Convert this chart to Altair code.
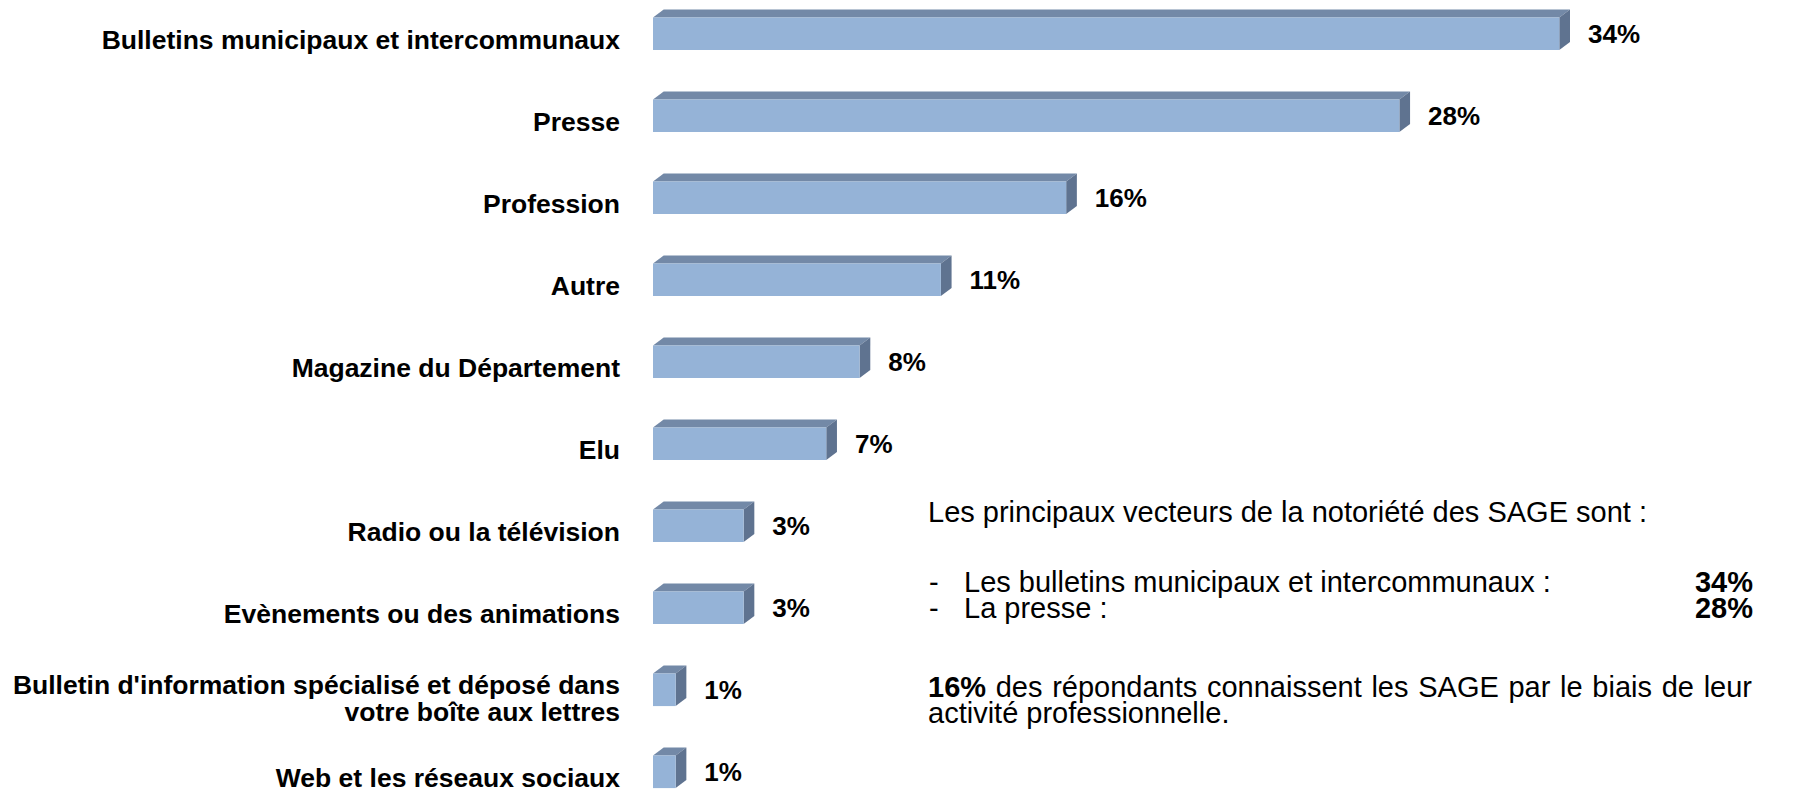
import altair as alt
import pandas as pd

# ---------------- data ----------------
categories = [
    "Bulletins municipaux et intercommunaux",
    "Presse",
    "Profession",
    "Autre",
    "Magazine du Département",
    "Elu",
    "Radio ou la télévision",
    "Evènements ou des animations",
    "Bulletin d'information spécialisé et déposé dans\nvotre boîte aux lettres",
    "Web et les réseaux sociaux",
]
values = [34.0, 28.0, 15.5, 10.8, 7.75, 6.5, 3.4, 3.4, 0.85, 0.85]
value_labels = ["34%", "28%", "16%", "11%", "8%", "7%", "3%", "3%", "1%", "1%"]

# ---------------- styling / geometry ----------------
FONT = "Liberation Sans, Arial, Helvetica, sans-serif"
FRONT = "#95B3D7"
TOP = "#7389A7"
SIDE = "#5F7390"

X_RANGE = [645, 1551.3]   # pixel range for domain [0, 34]
Y_RANGE = [25.7, 763.8]   # pixel range for rank [0, 9]
X_DOMAIN = [0, 34]
Y_DOMAIN = [0, 9]
px_x = (X_RANGE[1] - X_RANGE[0]) / (X_DOMAIN[1] - X_DOMAIN[0])
px_y = (Y_RANGE[1] - Y_RANGE[0]) / (Y_DOMAIN[1] - Y_DOMAIN[0])
half = 16.3 / px_y        # half bar thickness (front face)
ddx = 10.7 / px_x         # 3D depth, horizontal
ddy = 8.0 / px_y          # 3D depth, vertical
CAT_SIZE = 26.5
LINE_H = 27

rows_front, rows_top, rows_side = [], [], []
for i, (c, v, lab) in enumerate(zip(categories, values, value_labels)):
    yt, yb = i - half, i + half
    rows_front.append(dict(rank=i, cat=c, x0=0.0, x1=v, yt=yt, yb=yb,
                           lab=lab, xl=v + ddx, nl=c.count("\n") + 1))
    for x, y, y2 in [(0.0, yt, yt), (ddx, yt - ddy, yt), (v, yt - ddy, yt),
                     (v + ddx, yt - ddy, yt - ddy)]:
        rows_top.append(dict(rank=i, x=x, y=y, y2=y2))
    for x, y, y2 in [(v, yt, yb), (v + ddx, yt - ddy, yb - ddy)]:
        rows_side.append(dict(rank=i, x=x, y=y, y2=y2))

df_front = pd.DataFrame(rows_front)
df_top = pd.DataFrame(rows_top)
df_side = pd.DataFrame(rows_side)

xs = alt.Scale(domain=X_DOMAIN, range=X_RANGE, zero=False, nice=False)
ys = alt.Scale(domain=Y_DOMAIN, range=Y_RANGE, zero=False, nice=False)

top_faces = alt.Chart(df_top).mark_area(color=TOP, opacity=1).encode(
    x=alt.X("x:Q", scale=xs, axis=None),
    y=alt.Y("y:Q", scale=ys, axis=None, stack=None),
    y2="y2:Q",
    detail="rank:N",
)
side_faces = alt.Chart(df_side).mark_area(color=SIDE, opacity=1).encode(
    x=alt.X("x:Q", scale=xs, axis=None),
    y=alt.Y("y:Q", scale=ys, axis=None, stack=None),
    y2="y2:Q",
    detail="rank:N",
)
fronts = alt.Chart(df_front).mark_rect(color=FRONT).encode(
    x=alt.X("x0:Q", scale=xs, axis=None),
    x2="x1:Q",
    y=alt.Y("yt:Q", scale=ys, axis=None),
    y2="yb:Q",
)


def cat_layer(single, dy):
    return alt.Chart(df_front).transform_filter(
        "datum.nl == 1" if single else "datum.nl > 1"
    ).mark_text(
        align="right", baseline="middle", font=FONT, fontSize=CAT_SIZE,
        fontWeight="bold", color="black", lineBreak="\n", lineHeight=LINE_H, dy=dy,
    ).encode(
        x=alt.value(612),
        y=alt.Y("rank:Q", scale=ys, axis=None),
        text="cat:N",
    )


cat_single = cat_layer(True, 7.5)
cat_multi = cat_layer(False, -3.5)

val_labels = alt.Chart(df_front).mark_text(
    align="left", baseline="middle", font=FONT, fontSize=26,
    fontWeight="bold", color="black", dx=18, dy=1.5,
).encode(
    x=alt.X("xl:Q", scale=xs, axis=None),
    y=alt.Y("rank:Q", scale=ys, axis=None),
    text="lab:N",
)

# ---------------- text block on the right ----------------
dummy = pd.DataFrame({"a": [0]})
TS = 29


def note(text, x, y, bold=False, align="left", size=TS):
    return alt.Chart(dummy).mark_text(
        text=text, align=align, baseline="alphabetic", font=FONT,
        fontSize=size, fontWeight="bold" if bold else "normal", color="black",
    ).encode(x=alt.value(x), y=alt.value(y))


notes = [
    note("Les principaux vecteurs de la notoriété des SAGE sont :", 920, 514),
    note("-", 921, 584),
    note("Les bulletins municipaux et intercommunaux :", 956, 584),
    note("34%", 1745, 584, bold=True, align="right"),
    note("-", 921, 609.5),
    note("La presse :", 956, 609.5),
    note("28%", 1745, 609.5, bold=True, align="right"),
    note("activité professionnelle.", 920, 715),
]

# justified line (Arial / Liberation Sans metrics, per 1000 em)
W = {"d": 556, "e": 556, "s": 500, "r": 333, "é": 556, "p": 556, "o": 556,
     "n": 556, "a": 556, "t": 278, "c": 500, "i": 222, "l": 222, "b": 556,
     "u": 556, "S": 667, "A": 667, "G": 778, "E": 667}
WB = {"1": 556, "6": 556, "%": 889}
words = [("16%", True)] + [(w, False) for w in
                           "des répondants connaissent les SAGE par le biais de leur".split()]
widths = []
for w, b in words:
    tbl = WB if b else W
    widths.append(sum(tbl.get(ch, 556) for ch in w) / 1000 * TS)
left, right = 920, 1744
gap = (right - left - sum(widths)) / (len(words) - 1)
xpos = left
for (w, b), wd in zip(words, widths):
    notes.append(note(w, xpos, 689, bold=b))
    xpos += wd + gap

chart = alt.layer(top_faces, side_faces, fronts, cat_single, cat_multi, val_labels, *notes).properties(
    width=1780, height=783,
    autosize=alt.AutoSizeParams(type="none"),
    padding=0,
    background="white",
).configure_view(stroke=None)

chart.save("out.html", embed_options={"renderer": "svg", "actions": False})
